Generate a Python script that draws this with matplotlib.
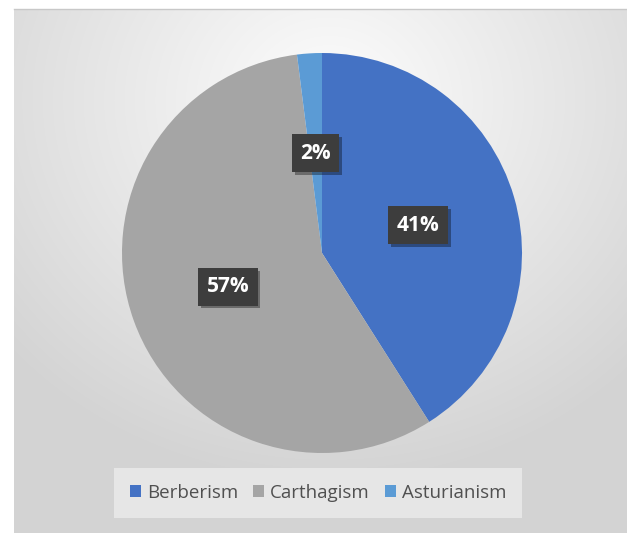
import numpy as np
import matplotlib
matplotlib.use('Agg')
import matplotlib.pyplot as plt
from matplotlib.patches import Patch
import matplotlib.patheffects as pe

Labels = ['Berberism', 'Carthagism', 'Asturianism']
Values = [41, 57, 2]
Colors = ['#4472C4', '#A5A5A5', '#5B9BD5']

W, H = 627, 533
fig = plt.figure(figsize=(W/100, H/100), dpi=100)
fig.patch.set_facecolor('white')

# background panel with radial gradient
bg = fig.add_axes([14/W, 0, 1-14/W, (H-10)/H])
yy, xx = np.mgrid[0:523, 0:613]
d = np.sqrt(((xx-315)/1.0)**2 + ((yy-90)/0.9)**2)
shade = 253 - 42*np.clip(d/430, 0, 1)
img = np.dstack([shade, shade, shade])/255
bg.imshow(img, aspect='auto', extent=[0, 1, 0, 1], origin='upper')
bg.set_axis_off()
fig.add_artist(plt.Line2D([14/W, 1], [(H-9)/H, (H-9)/H], color='#c8c8c8', lw=1))

# pie
cx, cy, r = 322, 253, 200
ax = fig.add_axes([(cx-r)/W, (H-cy-r)/H, 2*r/W, 2*r/H])
wedges, texts, autotexts = ax.pie(Values, colors=Colors, startangle=90, counterclock=False,
                                  autopct='%1.0f%%', pctdistance=0.5, radius=1,
                                  textprops=dict(color='white', fontsize=15, fontweight='bold',
                                                 family='Open Sans'))
for t in autotexts:
    t.set_bbox(dict(boxstyle='square,pad=0.4', facecolor='#3d3d3d', edgecolor='none'))
    t.get_bbox_patch().set_path_effects([pe.withSimplePatchShadow(offset=(2, -2), shadow_rgbFace='k', alpha=0.35), pe.Normal()])
ax.set_xlim(-1, 1)
ax.set_ylim(-1, 1)
ax.set_axis_off()

handles = [Patch(facecolor=c, edgecolor='none') for c in Colors]
leg = fig.legend(handles, Labels, loc='center', bbox_to_anchor=(318/W, (H-493)/H), ncol=3,
                 frameon=True, fancybox=False, facecolor='#e6e6e6', edgecolor='none', framealpha=1,
                 handlelength=0.6, handleheight=0.6, handletextpad=0.3, columnspacing=0.8,
                 borderpad=0.85, prop=dict(family='Open Sans', size=13.5))
for t in leg.get_texts():
    t.set_color('#505050')

fig.savefig('out.png', dpi=100)
